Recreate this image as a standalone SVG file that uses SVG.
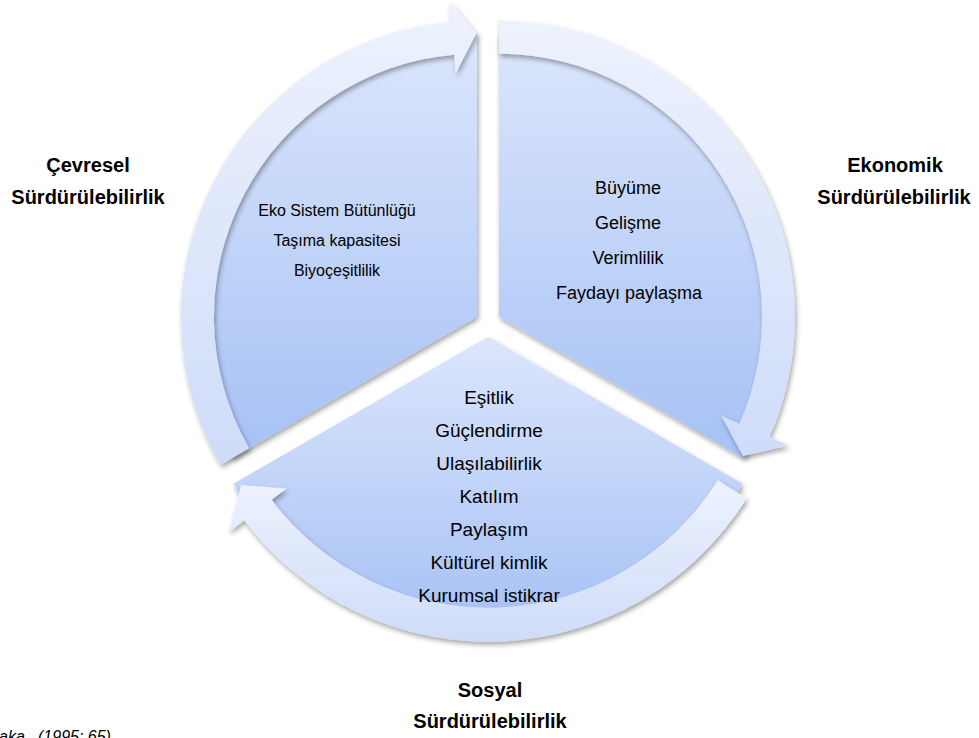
<svg xmlns="http://www.w3.org/2000/svg" width="979" height="738" viewBox="0 0 979 738">
  <defs>
    <linearGradient id="secGrad" x1="0" y1="0" x2="0" y2="1">
      <stop offset="0" stop-color="#dce6fc"/>
      <stop offset="1" stop-color="#a6c1f5"/>
    </linearGradient>
    <linearGradient id="bandGrad" x1="0" y1="0" x2="0" y2="1">
      <stop offset="0" stop-color="#edf2fd"/>
      <stop offset="1" stop-color="#cfdcf9"/>
    </linearGradient>
    <filter id="shadow" x="-10%" y="-10%" width="120%" height="120%">
      <feDropShadow dx="1.5" dy="3" stdDeviation="2.5" flood-color="#000" flood-opacity="0.35"/>
    </filter>
  </defs>
  <style>
    .sector { fill: url(#secGrad); filter: url(#shadow); }
    .band { fill: url(#bandGrad); filter: url(#shadow); }
    .inner { font-family: "Liberation Sans", Arial, sans-serif; fill: #000; text-anchor: middle; }
    .label { font-family: "Liberation Sans", Arial, sans-serif; font-weight: bold; font-size: 20px; fill: #000; text-anchor: middle; }
    .src { font-family: "Liberation Sans", Arial, sans-serif; font-style: italic; font-size: 16px; fill: #000; }
  </style>
  <rect width="979" height="738" fill="#ffffff"/>

  <g id="node-cevresel">
    <path class="sector" d="M477,316.7 L231.9,458.2 A283,283 0 0 1 477,33.7 Z"/>
  </g>
  <g id="node-ekonomik">
    <path class="sector" d="M499,316.7 L499,33.7 A283,283 0 0 1 744.1,458.2 Z"/>
  </g>
  <g id="node-sosyal">
    <path class="sector" d="M488,336.7 L742.6,483.7 A294,294 0 0 1 233.4,483.7 Z"/>
  </g>

  <g id="connectors">
    <path class="band" d="M220.7,464.7 A296,296 0 0 1 451.2,21.8 L449.5,1.9 L476.5,33.1 L455.7,73.6 L454.1,54.7 A263,263 0 0 0 249.2,448.2 Z"/>
    <path class="band" d="M499,20.7 A296,296 0 0 1 769.4,437.1 L788.6,445.6 L743.1,455.9 L721,415.5 L739.3,423.7 A263,263 0 0 0 499,53.7 Z"/>
    <path class="band" d="M746.7,498.3 A305,305 0 0 1 244.4,520.3 L229.2,531.7 L241.1,485 L286.7,488.4 L271.6,499.8 A271,271 0 0 0 717.8,480.3 Z"/>
  </g>

  <g id="text-cevresel" class="inner" font-size="16">
    <text x="337" y="216">Eko Sistem Bütünlüğü</text>
    <text x="337" y="246">Taşıma kapasitesi</text>
    <text x="337" y="276">Biyoçeşitlilik</text>
  </g>
  <g id="text-ekonomik" class="inner" font-size="18">
    <text x="628" y="194">Büyüme</text>
    <text x="628" y="229">Gelişme</text>
    <text x="628" y="264">Verimlilik</text>
    <text x="629" y="299">Faydayı paylaşma</text>
  </g>
  <g id="text-sosyal" class="inner" font-size="19">
    <text x="489" y="404">Eşitlik</text>
    <text x="489" y="437">Güçlendirme</text>
    <text x="489" y="470">Ulaşılabilirlik</text>
    <text x="489" y="503">Katılım</text>
    <text x="489" y="536">Paylaşım</text>
    <text x="489" y="569">Kültürel kimlik</text>
    <text x="489" y="602">Kurumsal istikrar</text>
  </g>

  <g id="label-cevresel" class="label">
    <text x="88" y="171.5">Çevresel</text>
    <text x="88" y="204">Sürdürülebilirlik</text>
  </g>
  <g id="label-ekonomik" class="label">
    <text x="895" y="171.5">Ekonomik</text>
    <text x="894" y="204">Sürdürülebilirlik</text>
  </g>
  <g id="label-sosyal" class="label">
    <text x="490" y="697">Sosyal</text>
    <text x="490" y="728">Sürdürülebilirlik</text>
  </g>

  <text class="src" y="742"><tspan x="-1">aka</tspan><tspan x="38">(1995: 65)</tspan></text>
</svg>
